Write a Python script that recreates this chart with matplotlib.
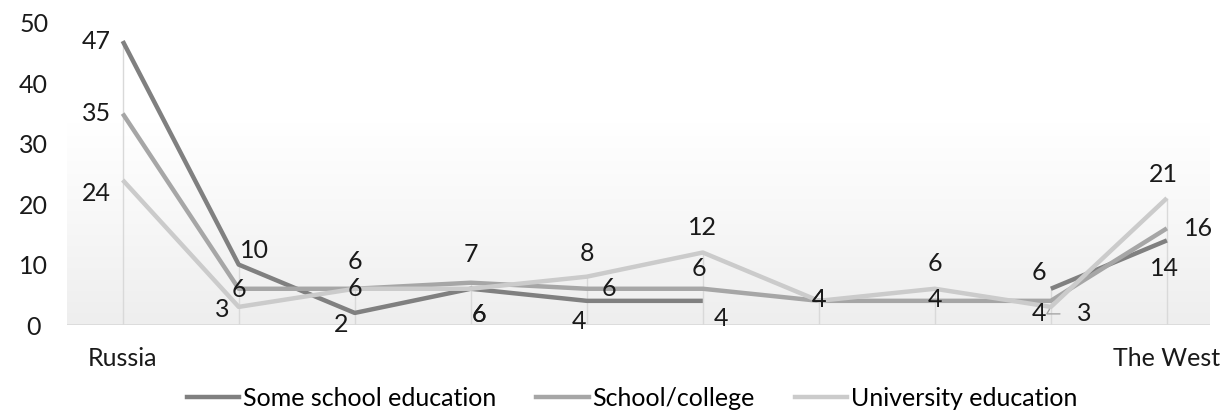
import numpy as np
import matplotlib
matplotlib.use("Agg")
import matplotlib.pyplot as plt
from matplotlib.lines import Line2D
from matplotlib.colors import LinearSegmentedColormap

plt.rcParams['font.family'] = ['Lato', 'DejaVu Sans']

categories = ["Russia", "", "", "", "", "", "", "", "", "The West"]
some_school = [47, 10, 2, 6, 4, 4, np.nan, np.nan, 6, 14]
school_college = [35, 6, 6, 7, 6, 6, 4, 4, 4, 16]
university = [24, 3, 6, 6, 8, 12, 4, 6, 3, 21]
series_names = ["Some school education", "School/college", "University education"]

colors = ["#808080", "#a6a6a6", "#cbcbcb"]

fig = plt.figure(figsize=(12.27, 4.17), dpi=100)
ax = fig.add_axes([0.0546, 0.2206, 0.9314, 0.7244])
x = np.arange(len(categories))
ax.set_xlim(-0.48, 9.37)
ax.set_ylim(0, 50)

# gradient background
grad = np.linspace(0, 1, 256).reshape(-1, 1)
cmap = LinearSegmentedColormap.from_list("g", ["#eeeeee", "#f7f7f7", "#ffffff", "#ffffff"])
ax.imshow(grad, extent=[-0.48, 9.37, 0, 50], origin="lower", aspect="auto", cmap=cmap, zorder=0)

# drop lines
allv = np.array([some_school, school_college, university], dtype=float)
tops = np.nanmax(allv, axis=0)
ax.vlines(x, 0, tops, color="#d9d9d9", lw=1, zorder=1)
ax.axhline(0, color="#d9d9d9", lw=1.2, zorder=1)

series = [some_school, school_college, university]
for vals, c, name in zip(series, colors, series_names):
    ax.plot(x, vals, color=c, lw=3.2, solid_capstyle="butt", zorder=3, label=name)

fs = 18
# label offsets in pixels (dx, dy) per series and point
offs_dark = [(-26, 0), (16, 14), (-14, -12), (8, -26), (-8, -21), (18, -18), None, None, (-12, 16), (-2, -28)]
offs_med = [(-26, 0), (0, -1), (0, 0), (0, 28), (22, 0), (-4, 20), (0, 1), (0, 1), (-12, -13), (32, 0)]
offs_light = [(-26, -13), (-16, -3), (0, 27), (8, -26), (0, 23), (0, 25), (0, 1), (0, 25), None, (-4, 24)]

for vals, offs in zip(series, [offs_dark, offs_med, offs_light]):
    for i, (v, o) in enumerate(zip(vals, offs)):
        if o is None or np.isnan(v):
            continue
        ax.annotate(f"{v:g}", (x[i], v), xytext=o, textcoords="offset pixels",
                    ha="center", va="center", fontsize=fs, color="#1a1a1a", zorder=5)

# leader label for university at index 8
ax.annotate(f"{university[8]:g}", (x[8], university[8]), xytext=(33, -7), textcoords="offset pixels",
            ha="center", va="center", fontsize=fs, color="#1a1a1a", zorder=5,
            arrowprops=dict(arrowstyle="-", color="#a6a6a6", lw=1,
                            connectionstyle="angle,angleA=0,angleB=60,rad=0",
                            shrinkA=10, shrinkB=2))

ax.set_xticks(x)
ax.set_xticklabels(categories, fontsize=fs, color="#1a1a1a")
ax.set_yticks([0, 10, 20, 30, 40, 50])
ax.set_yticklabels(["0", "10", "20", "30", "40", "50"], fontsize=fs, color="#1a1a1a", ha="center")
ax.tick_params(axis="both", length=0)
ax.tick_params(axis="x", pad=16)
ax.tick_params(axis="y", pad=24)
for s in ax.spines.values():
    s.set_visible(False)

handles = [Line2D([0], [0], color=c, lw=3.2) for c in colors]
fig.legend(handles, series_names, loc="center", bbox_to_anchor=(0.515, 0.045), ncol=3,
           frameon=False, fontsize=fs, handlelength=2.1, handletextpad=0.15, columnspacing=1.6)

fig.savefig("out.png", dpi=100)
